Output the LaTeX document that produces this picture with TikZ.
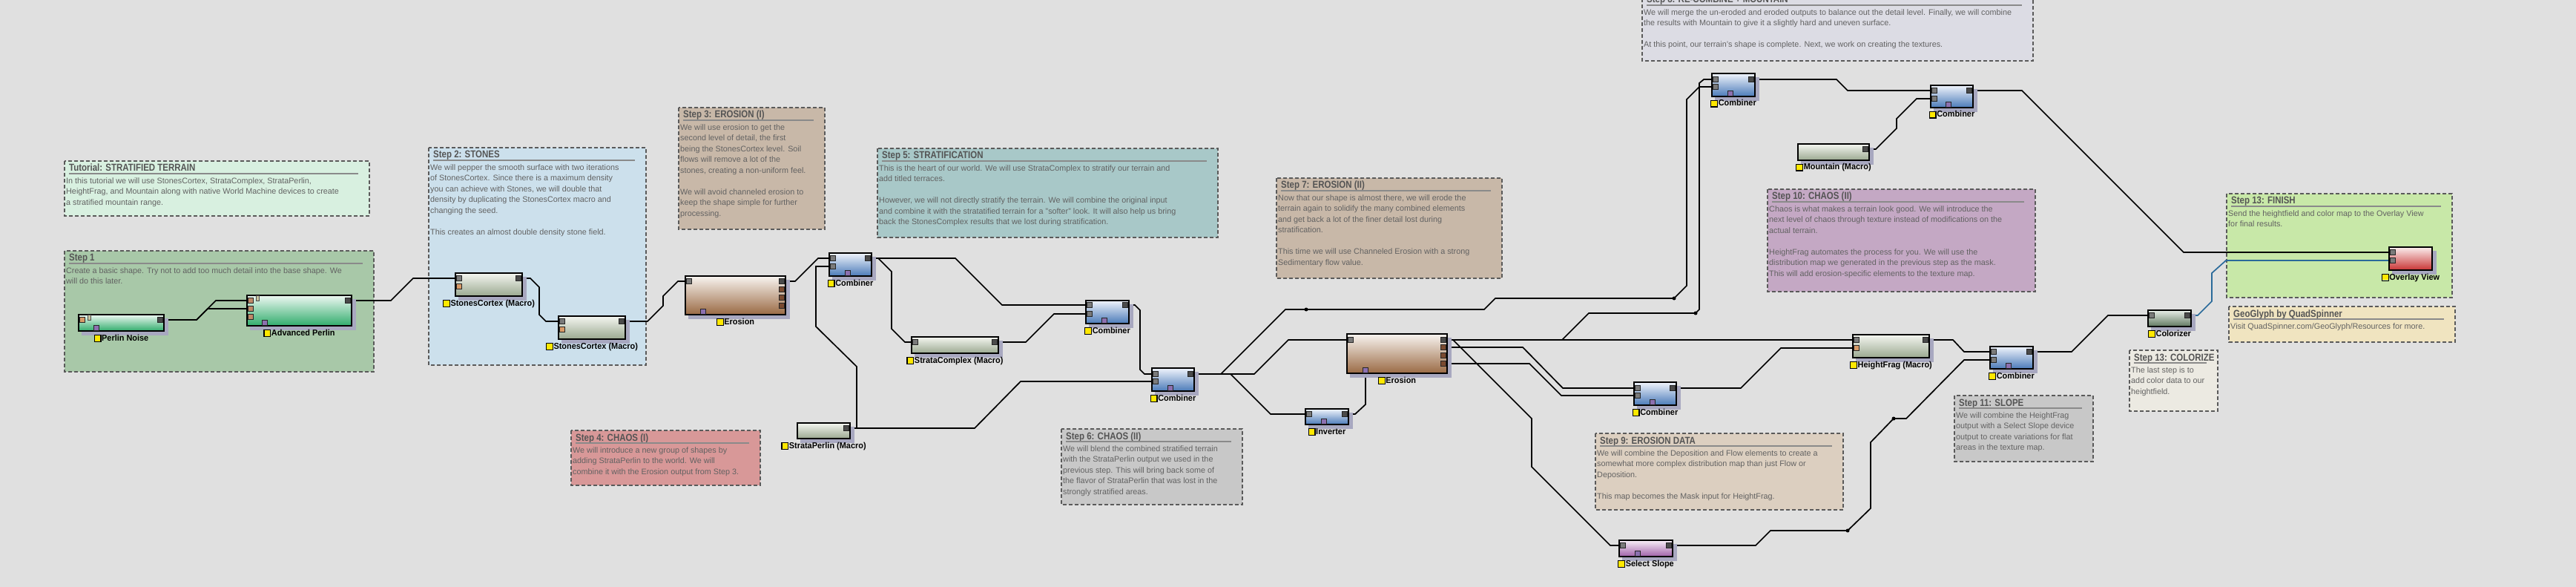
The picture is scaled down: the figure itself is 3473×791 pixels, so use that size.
\documentclass[tikz,border=0pt]{standalone}
\usepackage{fontspec}
\setmainfont{Liberation Sans}
\newfontfamily\ttlfont[FakeStretch=0.85]{Liberation Sans}
\newfontfamily\labfont[FakeStretch=0.95]{Liberation Sans}
\definecolor{bgc}{HTML}{E0E0E0}
\definecolor{tbord}{HTML}{5A5A5A}
\definecolor{ttlc}{HTML}{545454}
\definecolor{ulc}{HTML}{8A8A8A}
\definecolor{bodyc}{HTML}{626262}
\definecolor{bluew}{HTML}{2A6A9A}
\definecolor{shadowc}{HTML}{A8A8C0}
\definecolor{labyel}{HTML}{FFE800}
\definecolor{cTut}{HTML}{D8F0E0}
\definecolor{cOne}{HTML}{A8C8A8}
\definecolor{cTwo}{HTML}{CCE0EC}
\definecolor{cThree}{HTML}{C8B8A8}
\definecolor{cFour}{HTML}{D89898}
\definecolor{cFive}{HTML}{A8C8C8}
\definecolor{cSix}{HTML}{C8C8C8}
\definecolor{cSeven}{HTML}{C8B8A8}
\definecolor{cEight}{HTML}{DCDCE4}
\definecolor{cNine}{HTML}{DCCFC0}
\definecolor{cTen}{HTML}{C4A8C4}
\definecolor{cEleven}{HTML}{C8C8C8}
\definecolor{cColz}{HTML}{ECEAE2}
\definecolor{cFin}{HTML}{C8E8A8}
\definecolor{cGeo}{HTML}{F0E4C0}
\definecolor{genT}{HTML}{EEF8F2}
\definecolor{genB}{HTML}{30AC6C}
\definecolor{macT}{HTML}{F4F6F0}
\definecolor{macB}{HTML}{9AA890}
\definecolor{eroT}{HTML}{F8F4F0}
\definecolor{eroB}{HTML}{9A6A44}
\definecolor{cmbT}{HTML}{F0F4FC}
\definecolor{cmbB}{HTML}{4A7AB8}
\definecolor{ssT}{HTML}{F8F0F8}
\definecolor{ssB}{HTML}{A060A8}
\definecolor{colT}{HTML}{E8EEE8}
\definecolor{colB}{HTML}{607860}
\definecolor{ovT}{HTML}{FBEEEE}
\definecolor{ovB}{HTML}{C83434}
\definecolor{inc}{HTML}{7A7A7A}
\definecolor{outc}{HTML}{4A4A4A}
\definecolor{orgc}{HTML}{D89A68}
\definecolor{brc}{HTML}{7A4A30}
\definecolor{apc}{HTML}{C08A68}
\definecolor{maskc}{HTML}{8C70B0}
\definecolor{tabc}{HTML}{C8C4A0}
\newcommand\ysq{\raisebox{-0.5pt}{\setlength\fboxrule{1.2pt}\setlength\fboxsep{0pt}\fcolorbox{black}{labyel}{\rule{0pt}{7.5pt}\rule{7.5pt}{0pt}}}\hspace{0.6pt}}
\tikzset{
 tboxst/.style={draw=tbord, line width=1.8pt, dash pattern=on 5pt off 3pt},
 ttl/.style={font=\ttlfont\bfseries\fontsize{13.5}{14}\selectfont, text=ttlc, inner sep=0},
 uline/.style={draw=ulc, line width=1.8pt},
 body/.style={font=\fontsize{10.8}{14.5}\selectfont, text=bodyc, inner sep=0, align=left},
 wire/.style={draw=black, line width=1.7pt},
 bwire/.style={draw=bluew, line width=1.7pt},
 wmbox/.style={draw=black, line width=1.8pt, inner sep=0, rectangle},
 lab/.style={font=\labfont\bfseries\fontsize{11.5}{12}\selectfont, inner sep=0, anchor=base},
 portst/.style={draw=black!85, line width=0.8pt, inner sep=0, minimum width=7.5pt, minimum height=7.5pt, rectangle},
 tabst/.style={draw=black!70, line width=0.6pt, inner sep=0, minimum width=4pt, minimum height=7pt, fill=tabc, rectangle},
 dotst/.style={circle, fill=black, inner sep=0, minimum size=5pt},
}
% text box: name, x1, y1, x2, y2, fill, title, body
\newcommand\tbox[8]{%
 \draw[tboxst, fill=#6] (#2,#3) rectangle (#4,#5);
 \node[ttl, anchor=base west] (#1-t) at ({#2+6},{#3+14}) {#7};
 \draw[uline] ({#2+6},{#3+17}) -- ({#4-15},{#3+17});
 \node[body, anchor=north west] (#1-b) at ({#2+2},{#3+20}) {\rule{0pt}{10pt}#8};
}
% device node: name, x1, y1, x2, y2, top colour, bottom colour, label
\newcommand\wmnode[8]{%
 \fill[shadowc] ({#2+4},{#3+5}) rectangle ({#4+6},{#5+6});
 \node[wmbox, top color=#6, bottom color=#7, minimum width={(#4-(#2))*1pt}, minimum height={(#5-(#3))*1pt}] (#1) at ({(#2+#4)/2},{(#3+#5)/2}) {};
 \node[lab] (#1-lab) at ({(#2+#4)/2},{#5+13}) {\ysq #8};
}
\newcommand\port[4]{\node[portst, fill=#4] (#1) at (#2,#3) {};}
\begin{document}
\begin{tikzpicture}[x=1pt,y=-1pt]
\useasboundingbox (0,0) rectangle (3473,791);
\fill[bgc] (0,0) rectangle (3473,791);

% ---------- text boxes ----------
\tbox{tut}{87}{217}{498}{291}{cTut}{Tutorial: STRATIFIED TERRAIN}{In this tutorial we will use StonesCortex, StrataComplex, StrataPerlin,\\HeightFrag, and Mountain along with native World Machine devices to create\\a stratified mountain range.}
\tbox{s1}{87}{338}{504}{501}{cOne}{Step 1}{Create a basic shape. Try not to add too much detail into the base shape. We\\will do this later.}
\tbox{s2}{578}{199}{871}{492}{cTwo}{Step 2: STONES}{We will pepper the smooth surface with two iterations\\of StonesCortex. Since there is a maximum density\\you can achieve with Stones, we will double that\\density by duplicating the StonesCortex macro and\\changing the seed.\\[14.5pt]This creates an almost double density stone field.}
\tbox{s3}{915}{145}{1112}{309}{cThree}{Step 3: EROSION (I)}{We will use erosion to get the\\second level of detail, the first\\being the StonesCortex level. Soil\\flows will remove a lot of the\\stones, creating a non-uniform feel.\\[14.5pt]We will avoid channeled erosion to\\keep the shape simple for further\\processing.}
\tbox{s4}{770}{580}{1025}{654}{cFour}{Step 4: CHAOS (I)}{We will introduce a new group of shapes by\\adding StrataPerlin to the world. We will\\combine it with the Erosion output from Step 3.}
\tbox{s5}{1183}{200}{1642}{320}{cFive}{Step 5: STRATIFICATION}{This is the heart of our world. We will use StrataComplex to stratify our terrain and\\add titled terraces.\\[14.5pt]However, we will not directly stratify the terrain. We will combine the original input\\and combine it with the stratatified terrain for a "softer" look. It will also help us bring\\back the StonesComplex results that we lost during stratification.}
\tbox{s6}{1431}{578}{1675}{680}{cSix}{Step 6: CHAOS (II)}{We will blend the combined stratified terrain\\with the StrataPerlin output we used in the\\previous step. This will bring back some of\\the flavor of StrataPerlin that was lost in the\\strongly stratified areas.}
\tbox{s7}{1721}{240}{2025}{375}{cSeven}{Step 7: EROSION (II)}{Now that our shape is almost there, we will erode the\\terrain again to solidify the many combined elements\\and get back a lot of the finer detail lost during\\stratification.\\[14.5pt]This time we will use Channeled Erosion with a strong\\Sedimentary flow value.}
\tbox{s8}{2214}{-10}{2741}{82}{cEight}{Step 8: RE-COMBINE + MOUNTAIN}{We will merge the un-eroded and eroded outputs to balance out the detail level. Finally, we will combine\\the results with Mountain to give it a slightly hard and uneven surface.\\[14.5pt]At this point, our terrain's shape is complete. Next, we work on creating the textures.}
\tbox{s9}{2151}{584}{2485}{687}{cNine}{Step 9: EROSION DATA}{We will combine the Deposition and Flow elements to create a\\somewhat more complex distribution map than just Flow or\\Deposition.\\[14.5pt]This map becomes the Mask input for HeightFrag.}
\tbox{s10}{2383}{255}{2744}{393}{cTen}{Step 10: CHAOS (II)}{Chaos is what makes a terrain look good. We will introduce the\\next level of chaos through texture instead of modifications on the\\actual terrain.\\[14.5pt]HeightFrag automates the process for you. We will use the\\distribution map we generated in the previous step as the mask.\\This will add erosion-specific elements to the texture map.}
\tbox{s11}{2635}{533}{2822}{622}{cEleven}{Step 11: SLOPE}{We will combine the HeightFrag\\output with a Select Slope device\\output to create variations for flat\\areas in the texture map.}
\tbox{s12}{2871}{472}{2990}{554}{cColz}{Step 13: COLORIZE}{The last step is to\\add color data to our\\heightfield.}
\tbox{s13}{3002}{261}{3306}{401}{cFin}{Step 13: FINISH}{Send the heightfield and color map to the Overlay View\\for final results.}
\tbox{geo}{3005}{413}{3310}{461}{cGeo}{GeoGlyph by QuadSpinner}{Visit QuadSpinner.com/GeoGlyph/Resources for more.}

% ---------- port positions for wires ----------
\coordinate (pn-o) at (216,431);
\coordinate (ap-i1) at (338,405); \coordinate (ap-i2) at (338,416); \coordinate (ap-o) at (469,405);
\coordinate (sc1-i1) at (619,375); \coordinate (sc1-o) at (699,375);
\coordinate (sc2-i1) at (758,433); \coordinate (sc2-o) at (838,433);
\coordinate (er1-i) at (929,379); \coordinate (er1-o1) at (1054,379);
\coordinate (c1-i1) at (1123,348); \coordinate (c1-i2) at (1123,359); \coordinate (c1-o) at (1170,348);
\coordinate (sp-o) at (1141,577);
\coordinate (scx-i) at (1234,461); \coordinate (scx-o) at (1341,461);
\coordinate (c2-i1) at (1469,411); \coordinate (c2-i2) at (1469,423); \coordinate (c2-o) at (1517,411);
\coordinate (c3-i1) at (1558,504); \coordinate (c3-i2) at (1558,514); \coordinate (c3-o) at (1605,504);
\coordinate (er2-i) at (1821,458); \coordinate (er2-o1) at (1946,458); \coordinate (er2-o2) at (1946,468); \coordinate (er2-o4) at (1946,490); \coordinate (er2-m) at (1841,499);
\coordinate (inv-i) at (1765,558); \coordinate (inv-o) at (1813,558);
\coordinate (c4-i1) at (2208,523); \coordinate (c4-i2) at (2208,533); \coordinate (c4-o) at (2255,523);
\coordinate (c5-i1) at (2313,107); \coordinate (c5-i2) at (2313,117); \coordinate (c5-o) at (2361,107);
\coordinate (mt-o) at (2515,201);
\coordinate (c6-i1) at (2608,122); \coordinate (c6-i2) at (2608,133); \coordinate (c6-o) at (2655,122);
\coordinate (hf-i1) at (2503,458); \coordinate (hf-i2) at (2503,469); \coordinate (hf-o) at (2596,458);
\coordinate (c7-i1) at (2688,474); \coordinate (c7-i2) at (2688,485); \coordinate (c7-o) at (2736,474);
\coordinate (ss-i) at (2188,735); \coordinate (ss-o) at (2250,735);
\coordinate (col-i) at (2901,425); \coordinate (col-o) at (2949,425);
\coordinate (ov-i1) at (3226,340); \coordinate (ov-i2) at (3226,351);

% ---------- wires ----------
\draw[wire] (pn-o) -- (265,431) -- (291,405) -- (ap-i1);
\draw[wire] (pn-o) -- (265,431) -- (280,416) -- (ap-i2);
\draw[wire] (ap-o) -- (527,405) -- (557,375) -- (sc1-i1);
\draw[wire] (sc1-o) -- (715,375) -- (727,387) -- (727,424) -- (736,433) -- (sc2-i1);
\draw[wire] (sc2-o) -- (873,433) -- (894,412) -- (894,399) -- (914,379) -- (er1-i);
\draw[wire] (er1-o1) -- (1072,379) -- (1103,348) -- (c1-i1);
\draw[wire] (sp-o) -- (1155,577) -- (1155,494) -- (1100,440) -- (1100,359) -- (c1-i2);
\draw[wire] (sp-o) -- (1314,577) -- (1376,514) -- (c3-i2);
\draw[wire] (c1-o) -- (1288,348) -- (1351,411) -- (c2-i1);
\draw[wire] (c1-o) -- (1184,348) -- (1202,366) -- (1202,443) -- (1220,461) -- (scx-i);
\draw[wire] (scx-o) -- (1383,461) -- (1421,423) -- (c2-i2);
\draw[wire] (c2-o) -- (1530,411) -- (1537,418) -- (1537,498) -- (1543,504) -- (c3-i1);
\draw[wire] (c3-o) -- (1646,504) -- (1733,417) -- (2001,417) -- (2016,402) -- (2257,402) -- (2274,385) -- (2274,134) -- (2291,117) -- (c5-i2);
\draw[wire] (c3-o) -- (1691,504) -- (1737,458) -- (er2-i);
\draw[wire] (c3-o) -- (1659,504) -- (1713,558) -- (inv-i);
\draw[wire] (inv-o) -- (1827,558) -- (1841,545) -- (er2-m);
\draw[wire] (er2-o1) -- (hf-i1);
\draw[wire] (er2-o1) -- (2106,458) -- (2142,422) -- (2286,422) -- (2291,417) -- (2291,112) -- (2297,107) -- (c5-i1);
\draw[wire] (er2-o1) -- (1959,458) -- (2065,564) -- (2065,629) -- (2171,735) -- (ss-i);
\draw[wire] (er2-o2) -- (2053,468) -- (2107,523) -- (c4-i1);
\draw[wire] (er2-o4) -- (2062,490) -- (2105,533) -- (c4-i2);
\draw[wire] (c4-o) -- (2347,523) -- (2401,469) -- (hf-i2);
\draw[wire] (c5-o) -- (2476,107) -- (2491,122) -- (c6-i1);
\draw[wire] (mt-o) -- (2529,201) -- (2557,173) -- (2557,160) -- (2584,133) -- (c6-i2);
\draw[wire] (c6-o) -- (2726,122) -- (2944,340) -- (ov-i1);
\draw[wire] (hf-o) -- (2633,458) -- (2648,474) -- (c7-i1);
\draw[wire] (ss-o) -- (2367,735) -- (2387,715) -- (2491,715) -- (2522,685) -- (2522,596) -- (2553,564) -- (2570,564) -- (2648,485) -- (c7-i2);
\draw[wire] (c7-o) -- (2793,474) -- (2842,425) -- (col-i);
\draw[bwire] (col-o) -- (2963,425) -- (2982,406) -- (2982,368) -- (3001,351) -- (ov-i2);

\node[dotst] (d1) at (1761,417) {};
\node[dotst] (d2) at (2257,402) {};
\node[dotst] (d3) at (2286,422) {};
\node[dotst] (d4) at (2491,715) {};
\node[dotst] (d5) at (2553,564) {};

% ---------- devices ----------
\wmnode{pn}{106}{424}{221}{446}{genT}{genB}{Perlin Noise}
\port{pn-pi}{111}{431}{orgc} \node[tabst] (pn-tab) at (120,428) {};
\port{pn-po}{216}{431}{outc} \port{pn-pm}{130}{442}{maskc}

\wmnode{ap}{333}{398}{474}{439}{genT}{genB}{Advanced Perlin}
\port{ap-p1}{338}{405}{apc} \port{ap-p2}{338}{416}{apc} \port{ap-p3}{338}{427}{apc}
\node[tabst] (ap-tab) at (347,402) {};
\port{ap-po}{469}{405}{outc} \port{ap-pm}{357}{435}{maskc}

\wmnode{sc1}{614}{368}{704}{399}{macT}{macB}{StonesCortex (Macro)}
\port{sc1-p1}{619}{375}{inc} \port{sc1-p2}{619}{386}{orgc} \port{sc1-po}{699}{375}{outc}

\wmnode{sc2}{753}{426}{843}{457}{macT}{macB}{StonesCortex (Macro)}
\port{sc2-p1}{758}{433}{inc} \port{sc2-p2}{758}{444}{orgc} \port{sc2-po}{838}{433}{outc}

\wmnode{er1}{924}{372}{1059}{424}{eroT}{eroB}{Erosion}
\port{er1-pi}{929}{379}{inc} \port{er1-p1}{1054}{379}{outc} \port{er1-p2}{1054}{390}{brc}
\port{er1-p3}{1054}{401}{brc} \port{er1-p4}{1054}{412}{brc} \port{er1-pm}{948}{420}{maskc}

\wmnode{c1}{1118}{341}{1175}{372}{cmbT}{cmbB}{Combiner}
\port{c1-p1}{1123}{348}{inc} \port{c1-p2}{1123}{359}{inc} \port{c1-po}{1170}{348}{outc} \port{c1-pm}{1143}{368}{maskc}

\wmnode{sp}{1075}{570}{1146}{591}{macT}{macB}{StrataPerlin (Macro)}
\port{sp-po}{1141}{577}{outc}

\wmnode{scx}{1229}{454}{1346}{476}{macT}{macB}{StrataComplex (Macro)}
\port{scx-pi}{1234}{461}{inc} \port{scx-po}{1341}{461}{outc}

\wmnode{c2}{1464}{405}{1522}{436}{cmbT}{cmbB}{Combiner}
\port{c2-p1}{1469}{411}{inc} \port{c2-p2}{1469}{423}{inc} \port{c2-po}{1517}{411}{outc} \port{c2-pm}{1489}{432}{maskc}

\wmnode{c3}{1553}{496}{1610}{527}{cmbT}{cmbB}{Combiner}
\port{c3-p1}{1558}{504}{inc} \port{c3-p2}{1558}{514}{inc} \port{c3-po}{1605}{504}{outc} \port{c3-pm}{1578}{523}{maskc}

\wmnode{er2}{1816}{450}{1951}{503}{eroT}{eroB}{Erosion}
\port{er2-pi}{1821}{458}{inc} \port{er2-p1}{1946}{458}{outc} \port{er2-p2}{1946}{468}{brc}
\port{er2-p3}{1946}{479}{brc} \port{er2-p4}{1946}{490}{brc} \port{er2-pm}{1841}{499}{maskc}

\wmnode{inv}{1760}{551}{1818}{572}{cmbT}{cmbB}{Inverter}
\port{inv-pi}{1765}{558}{inc} \port{inv-po}{1813}{558}{outc} \port{inv-pm}{1785}{568}{maskc}

\wmnode{c4}{2203}{515}{2260}{546}{cmbT}{cmbB}{Combiner}
\port{c4-p1}{2208}{523}{inc} \port{c4-p2}{2208}{533}{inc} \port{c4-po}{2255}{523}{outc} \port{c4-pm}{2228}{542}{maskc}

\wmnode{c5}{2308}{99}{2366}{130}{cmbT}{cmbB}{Combiner}
\port{c5-p1}{2313}{107}{inc} \port{c5-p2}{2313}{117}{inc} \port{c5-po}{2361}{107}{outc} \port{c5-pm}{2333}{126}{maskc}

\wmnode{mt}{2424}{194}{2520}{216}{macT}{macB}{Mountain (Macro)}
\port{mt-po}{2515}{201}{outc}

\wmnode{c6}{2603}{115}{2660}{145}{cmbT}{cmbB}{Combiner}
\port{c6-p1}{2608}{122}{inc} \port{c6-p2}{2608}{133}{inc} \port{c6-po}{2655}{122}{outc} \port{c6-pm}{2627}{141}{maskc}

\wmnode{hf}{2498}{451}{2601}{482}{macT}{macB}{HeightFrag (Macro)}
\port{hf-p1}{2503}{458}{inc} \port{hf-p2}{2503}{469}{orgc} \port{hf-po}{2596}{458}{outc}

\wmnode{c7}{2683}{467}{2741}{497}{cmbT}{cmbB}{Combiner}
\port{c7-p1}{2688}{474}{inc} \port{c7-p2}{2688}{485}{inc} \port{c7-po}{2736}{474}{outc} \port{c7-pm}{2708}{493}{maskc}

\wmnode{ss}{2183}{728}{2255}{750}{ssT}{ssB}{Select Slope}
\port{ss-pi}{2188}{735}{inc} \port{ss-po}{2250}{735}{outc} \port{ss-pm}{2208}{746}{maskc}

\wmnode{col}{2896}{418}{2954}{440}{colT}{colB}{Colorizer}
\port{col-pi}{2901}{425}{inc} \port{col-po}{2949}{425}{outc}

\wmnode{ov}{3221}{333}{3279}{364}{ovT}{ovB}{Overlay View}
\port{ov-p1}{3226}{340}{inc} \port{ov-p2}{3226}{351}{inc}
\end{tikzpicture}
\end{document}
